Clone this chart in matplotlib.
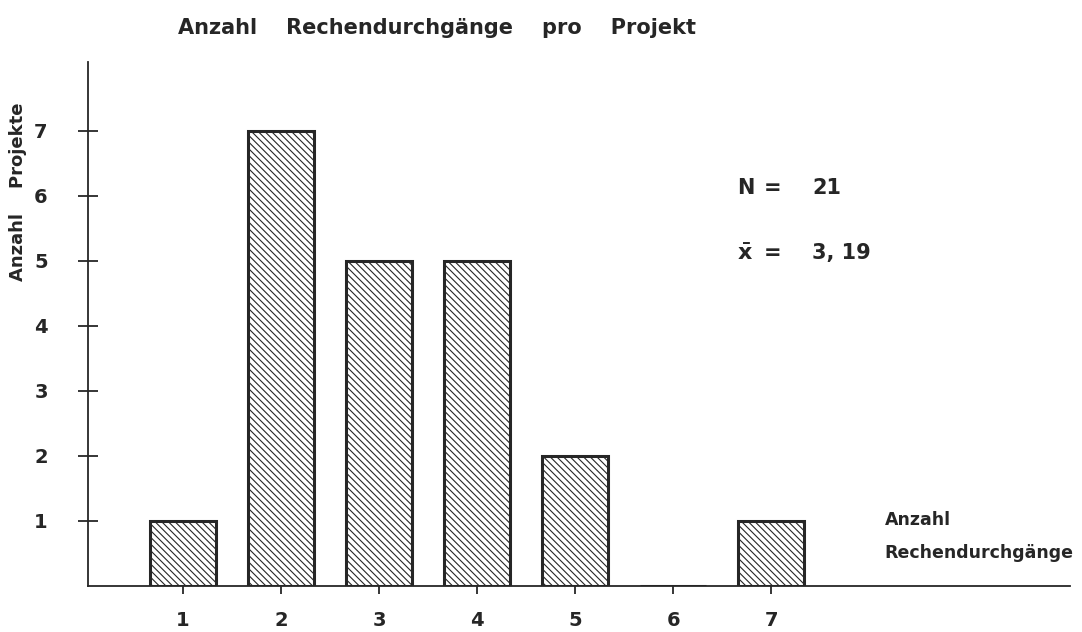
import matplotlib
matplotlib.use('Agg')
import matplotlib.pyplot as plt

plt.rcParams['font.family'] = ['DejaVu Sans']
plt.rcParams['font.weight'] = 'bold'
plt.rcParams['hatch.linewidth'] = 0.8
plt.rcParams['hatch.color'] = '#1e1e1e'

# Anzahl Rechendurchgänge -> Anzahl Projekte
durchgaenge = [1, 2, 3, 4, 5, 6, 7]
projekte = [1, 7, 5, 5, 2, 0, 1]
yticks = [1, 2, 3, 4, 5, 6, 7]
n_text = '21'
mean_text = '3, 19'

ink = '#262626'

fig = plt.figure(figsize=(10.82, 6.32), dpi=100)
ax = fig.add_axes([88 / 1082, 46 / 632, (1070 - 88) / 1082, (586 - 62) / 632])

ax.bar(durchgaenge, projekte, width=0.68, facecolor='white',
       edgecolor=ink, linewidth=2.2, hatch='\\\\\\\\\\')

ax.set_xlim(0.03, 10.05)
ax.set_ylim(0, 8.06)

for s in ['top', 'right']:
    ax.spines[s].set_visible(False)
for s in ['left', 'bottom']:
    ax.spines[s].set_color(ink)
    ax.spines[s].set_linewidth(1.3)

ax.set_xticks(durchgaenge)
ax.set_xticklabels([str(v) for v in durchgaenge])
ax.set_yticks(yticks)
ax.set_yticklabels([str(v) for v in yticks])
ax.tick_params(axis='x', direction='out', length=6, width=1.3, color=ink,
               pad=12, labelsize=14, labelcolor=ink)
ax.tick_params(axis='y', direction='inout', length=14, width=1.3, color=ink,
               pad=22, labelsize=14, labelcolor=ink)

# Titel und Achsbeschriftungen
fig.text(178 / 1082, 1 - 28 / 632, 'Anzahl    Rechendurchgänge    pro    Projekt',
         fontsize=15, color=ink, va='center', ha='left')
fig.text(18 / 1082, 1 - 192 / 632, 'Anzahl    Projekte', rotation=90,
         fontsize=13, color=ink, va='center', ha='center')

ax.text(8.16, 1.02, 'Anzahl', fontsize=12.5, color=ink, va='center', ha='left')
ax.text(8.16, 0.51, 'Rechendurchgänge', fontsize=12.5, color=ink, va='center', ha='left')

# Kennwerte
ax.text(6.65, 6.12, 'N', fontsize=15, color=ink, va='center', ha='left')
ax.text(7.02, 6.12, '=', fontsize=15, color=ink, va='center', ha='center')
ax.text(7.42, 6.12, n_text, fontsize=15, color=ink, va='center', ha='left')
ax.text(6.65, 5.12, r'$\mathbf{\bar{x}}$', fontsize=16, color=ink, va='center', ha='left')
ax.text(7.02, 5.12, '=', fontsize=15, color=ink, va='center', ha='center')
ax.text(7.42, 5.12, mean_text, fontsize=15, color=ink, va='center', ha='left')

fig.savefig('out.png', dpi=100, facecolor='white')
